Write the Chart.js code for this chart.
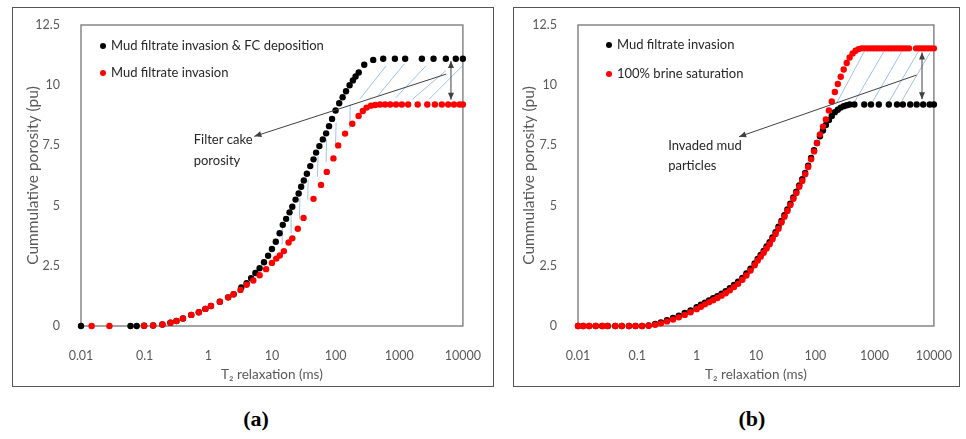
<!DOCTYPE html>
<html>
<head>
<meta charset="utf-8">
<script src="https://cdn.jsdelivr.net/npm/chart.js@4.4.0/dist/chart.umd.min.js"></script>
<style>
  body { margin: 0; background: #fff; }
  #wrap { position: relative; width: 966px; height: 439px; overflow: hidden; background: #fff; }
  .frame { position: absolute; border: 1.5px solid #555; box-sizing: border-box; }
  canvas { position: absolute; top: 0; }
  .lab { position: absolute; width: 80px; text-align: center; font: bold 22px "Liberation Serif", "Times New Roman", serif; color: #000; }
</style>
</head>
<body>
<div id="wrap">
  <div class="frame" style="left:12px;top:7px;width:482px;height:380px"></div>
  <div class="frame" style="left:513px;top:7px;width:447px;height:380px"></div>
  <canvas id="chartA" width="495" height="400" style="left:0"></canvas>
  <canvas id="chartB" width="469" height="400" style="left:497px"></canvas>
  <div class="lab" style="left:216px;top:406px">(a)</div>
  <div class="lab" style="left:712px;top:406px">(b)</div>
</div>
<script>
// ---- panel (a): T2 (ms) and cumulative porosity (pu)
const t2A_fc = [0.01, 0.06, 0.075, 0.098, 0.136, 0.19, 0.254, 0.316, 0.40, 0.54, 0.71, 0.90, 1.1, 1.52, 2.05, 2.5,
  3.3, 4.0, 4.7, 5.5, 6.4, 7.5, 8.7, 10, 11.5, 13.2, 14.8, 16.7, 18.9, 20.9, 23.5, 26.3, 28.8, 31.7, 35.4, 40, 45,
  49.4, 55.6, 63, 71, 79, 88, 100, 114, 129, 146, 166, 187, 206, 231, 282, 390, 560, 855, 1240, 2270, 3460, 5400,
  7740, 10000];
const phiA_fc = [0, 0, 0, 0.01, 0.02, 0.06, 0.14, 0.21, 0.31, 0.46, 0.57, 0.71, 0.83, 1.01, 1.19, 1.32,
  1.6, 1.78, 1.99, 2.2, 2.4, 2.65, 2.92, 3.2, 3.5, 3.85, 4.2, 4.45, 4.72, 4.95, 5.25, 5.5, 5.78, 6.04, 6.32, 6.64, 6.92,
  7.2, 7.47, 7.75, 8.0, 8.3, 8.6, 8.95, 9.25, 9.5, 9.75, 10.0, 10.2, 10.36, 10.53, 10.85, 11.05, 11.1, 11.1, 11.1, 11.1, 11.1, 11.1,
  11.1, 11.1];

const t2A_mf = [0.0147, 0.028, 0.098, 0.136, 0.19, 0.254, 0.316, 0.40, 0.54, 0.71, 0.90, 1.1, 1.52, 2.05, 2.5, 3.2,
  4.0, 5.1, 6.4, 8.1, 10, 11.7, 13.3, 15.4, 18.3, 20.9, 25.5, 31.4, 45, 59, 72.7, 92.5, 110, 141, 183, 230, 268, 307,
  360, 420, 500, 600, 720, 890, 1100, 1380, 1950, 2760, 3630, 4670, 5880, 7240, 8900, 10000];
const phiA_mf = [0, 0, 0.01, 0.02, 0.06, 0.14, 0.21, 0.31, 0.46, 0.57, 0.71, 0.83, 1.01, 1.19, 1.32, 1.5,
  1.71, 1.89, 2.11, 2.36, 2.62, 2.8, 2.93, 3.11, 3.47, 3.64, 4.04, 4.49, 5.28, 5.86, 6.4, 6.96, 7.5, 7.99, 8.4, 8.72, 8.93, 9.07,
  9.15, 9.18, 9.2, 9.2, 9.2, 9.2, 9.2, 9.2, 9.2, 9.2, 9.2, 9.2, 9.2, 9.2, 9.2, 9.2];

// ---- panel (b)
const t2B_mf = [0.01, 0.0122, 0.0154, 0.0199, 0.0256, 0.0317, 0.0425, 0.0548, 0.0724, 0.0933, 0.12, 0.155, 0.2, 0.25,
  0.316, 0.4, 0.5, 0.63, 0.79, 1.0, 1.18, 1.38, 1.62, 1.9, 2.24, 2.63, 3.09, 3.63, 4.27, 5.0, 5.9, 6.9, 8.1, 9.5, 10.7,
  12, 13.5, 15.1, 17, 19, 21.4, 24, 26.9, 30.2, 33.9, 38, 42.7, 47.9, 53.7, 60.3, 67.6, 75.9, 85.1, 95.5, 107, 120, 135,
  151, 170, 190, 214, 240, 269, 302, 339, 380, 457, 670, 870, 1180, 1740, 2390, 3000, 3990, 5130, 6600, 8500, 10000];
const phiB_mf = [0, 0, 0, 0, 0, 0, 0, 0, 0, 0, 0, 0.02, 0.08, 0.15,
  0.24, 0.33, 0.43, 0.54, 0.65, 0.78, 0.88, 0.97, 1.06, 1.15, 1.24, 1.34, 1.45, 1.57, 1.7, 1.84, 2.0, 2.18, 2.38, 2.6, 2.78,
  2.95, 3.12, 3.3, 3.48, 3.68, 3.9, 4.12, 4.36, 4.6, 4.84, 5.08, 5.34, 5.58, 5.84, 6.1, 6.36, 6.66, 6.98, 7.3, 7.6, 7.88, 8.12,
  8.35, 8.55, 8.72, 8.88, 8.98, 9.07, 9.13, 9.17, 9.2, 9.2, 9.2, 9.2, 9.2, 9.2, 9.2, 9.2, 9.2, 9.2, 9.2, 9.2, 9.2];

const t2B_brine = [0.01, 0.0122, 0.0154, 0.0199, 0.0256, 0.0317, 0.0425, 0.0548, 0.0724, 0.0933, 0.12, 0.155, 0.2, 0.25,
  0.316, 0.4, 0.5, 0.63, 0.79, 1.0, 1.18, 1.38, 1.62, 1.9, 2.24, 2.63, 3.09, 3.63, 4.27, 5.0, 5.9, 6.9, 8.1, 9.5, 10.7,
  12, 13.5, 15.1, 17, 19, 21.4, 24, 26.9, 30.2, 33.9, 38, 42.7, 47.9, 53.7, 60.3, 67.6, 75.9, 85.1, 95.5, 107, 120, 135,
  151, 170, 190, 214, 240, 269, 302, 339, 380, 427, 479, 537, 603, 676, 759, 851, 955, 1072, 1202, 1349, 1514, 1698, 1905,
  2138, 2399, 2692, 3020, 3388, 3802, 5012, 5623, 6310, 7079, 7943, 8913, 10000];
const phiB_brine = [0, 0, 0, 0, 0, 0, 0, 0, 0, 0, 0, 0.01, 0.05, 0.11,
  0.19, 0.27, 0.36, 0.46, 0.57, 0.7, 0.8, 0.9, 0.99, 1.07, 1.16, 1.26, 1.36, 1.48, 1.62, 1.75, 1.92, 2.1, 2.3, 2.52, 2.72,
  2.88, 3.04, 3.22, 3.4, 3.6, 3.82, 4.04, 4.3, 4.54, 4.78, 5.02, 5.28, 5.52, 5.78, 6.02, 6.3, 6.6, 6.92, 7.25, 7.6, 7.95, 8.28,
  8.58, 8.95, 9.32, 9.72, 10.05, 10.35, 10.65, 10.92, 11.15, 11.32, 11.43, 11.5, 11.53, 11.53, 11.53, 11.53, 11.53, 11.53, 11.53, 11.53, 11.53, 11.53, 11.53,
  11.53, 11.53, 11.53, 11.53, 11.53, 11.53, 11.53, 11.53, 11.53, 11.53, 11.53, 11.53, 11.53];

const xTicks = [0.01, 0.1, 1, 10, 100, 1000, 10000];
const yTicks = [0, 2.5, 5, 7.5, 10, 12.5];

// hatch segments [t2 start, phi start, t2 end, phi end]
const hatchA = [[14.5, 3.4, 14.5, 4.1], [20, 3.85, 20, 4.75], [27, 4.45, 27.5, 5.3], [36.6, 5.25, 37, 6.05],
  [52, 6.2, 53, 7.05], [71, 6.8, 72, 7.75], [100, 7.55, 102, 8.45], [167, 8.2, 170, 9.2],
  [240, 9.42, 620, 10.8], [460, 9.55, 1200, 10.88], [890, 9.49, 2630, 10.8], [1620, 9.42, 5400, 10.6], [2950, 9.42, 9800, 10.8]];
const hatchB = [[229, 9.25, 670, 11.4], [457, 9.3, 1440, 11.4], [920, 9.3, 2880, 11.4], [1740, 9.3, 5480, 11.4], [2880, 9.35, 8500, 11.33]];

const FONT = 'Lato, "Open Sans", sans-serif';
const GREY = '#595959';
const INK = '#262626';

function pts(xs, ys) {
  return xs.map((x, i) => ({ x: x, y: ys[i] }));
}

function arrowHead(ctx, x0, y0, x1, y1) {
  const a = Math.atan2(y1 - y0, x1 - x0);
  ctx.beginPath();
  ctx.moveTo(x1, y1);
  ctx.lineTo(x1 - 7 * Math.cos(a) + 3 * Math.sin(a), y1 - 7 * Math.sin(a) - 3 * Math.cos(a));
  ctx.lineTo(x1 - 7 * Math.cos(a) - 3 * Math.sin(a), y1 - 7 * Math.sin(a) + 3 * Math.cos(a));
  ctx.closePath();
  ctx.fill();
}

// frame, hatching, arrows, notes and in-plot legend
const annotate = {
  id: 'annotate',
  beforeDatasetsDraw(chart, args, o) {
    const { ctx, chartArea: ca } = chart;
    const xs = chart.scales.x, ys = chart.scales.y;
    ctx.save();
    ctx.strokeStyle = '#868686';
    ctx.lineWidth = 1.5;
    ctx.strokeRect(ca.left, ca.top, ca.right - ca.left, ca.bottom - ca.top);
    ctx.strokeStyle = '#9dc3e6';
    ctx.lineWidth = 1;
    o.hatch.forEach(h => {
      ctx.beginPath();
      ctx.moveTo(xs.getPixelForValue(h[0]), ys.getPixelForValue(h[1]));
      ctx.lineTo(xs.getPixelForValue(h[2]), ys.getPixelForValue(h[3]));
      ctx.stroke();
    });
    ctx.restore();
  },
  afterDatasetsDraw(chart, args, o) {
    const { ctx, chartArea: ca } = chart;
    const xs = chart.scales.x, ys = chart.scales.y;
    ctx.save();
    ctx.strokeStyle = '#404040';
    ctx.fillStyle = '#404040';
    ctx.lineWidth = 1;
    // pointer arrow
    const a = o.arrow;
    const ax0 = xs.getPixelForValue(a[0]), ay0 = ys.getPixelForValue(a[1]);
    const ax1 = xs.getPixelForValue(a[2]), ay1 = ys.getPixelForValue(a[3]);
    ctx.beginPath(); ctx.moveTo(ax0, ay0); ctx.lineTo(ax1, ay1); ctx.stroke();
    arrowHead(ctx, ax0, ay0, ax1, ay1);
    // double arrow between plateaus
    const d = o.gap;
    const dx = xs.getPixelForValue(d[0]), dy0 = ys.getPixelForValue(d[1]), dy1 = ys.getPixelForValue(d[2]);
    ctx.beginPath(); ctx.moveTo(dx, dy0); ctx.lineTo(dx, dy1); ctx.stroke();
    arrowHead(ctx, dx, dy1, dx, dy0);
    arrowHead(ctx, dx, dy0, dx, dy1);
    // note text
    ctx.font = '13px ' + FONT;
    ctx.fillStyle = INK;
    ctx.textBaseline = 'middle';
    ctx.textAlign = 'left';
    o.note.forEach(n => ctx.fillText(n[2], xs.getPixelForValue(n[0]), ys.getPixelForValue(n[1])));
    // legend
    chart.data.datasets.forEach((ds, i) => {
      const lx = ca.left + o.legend[0], ly = ca.top + o.legend[1] + i * o.legend[2];
      ctx.fillStyle = ds.backgroundColor;
      ctx.beginPath(); ctx.arc(lx, ly, 3, 0, Math.PI * 2); ctx.fill();
      ctx.fillStyle = INK;
      ctx.fillText(ds.label, lx + 8, ly);
    });
    ctx.restore();
  }
};

function makeChart(id, sets, ann) {
  return new Chart(document.getElementById(id), {
    type: 'scatter',
    data: {
      datasets: sets.map((s, i) => ({
        label: s.label,
        data: s.data,
        backgroundColor: s.color,
        borderColor: s.color,
        pointRadius: 3.2,
        pointBorderWidth: 0,
        pointHoverRadius: 3.2,
        order: s.order,
        clip: false
      }))
    },
    options: {
      responsive: false,
      animation: false,
      layout: { padding: { left: 0, top: 25, right: ann.padRight, bottom: 14 } },
      plugins: {
        legend: { display: false },
        tooltip: { enabled: false },
        annotate: ann
      },
      scales: {
        x: {
          type: 'logarithmic',
          min: 0.01,
          max: 10000,
          afterBuildTicks: s => { s.ticks = xTicks.map(v => ({ value: v })); },
          afterFit: s => { s.height = 60; },
          ticks: { callback: v => String(v), color: GREY, font: { family: FONT, size: 12.5 }, padding: 14, maxRotation: 0, autoSkip: false },
          grid: { display: false },
          border: { display: false },
          title: { display: true, text: 'T\u2082 relaxation (ms)', color: GREY, font: { family: FONT, size: 13.5 }, padding: { top: 0, bottom: 3 } }
        },
        y: {
          min: 0,
          max: 12.5,
          afterBuildTicks: s => { s.ticks = yTicks.map(v => ({ value: v })); },
          afterFit: s => { s.width = 81; },
          ticks: { callback: v => String(v), color: GREY, font: { family: FONT, size: 12.5 }, padding: 13 },
          grid: { display: false },
          border: { display: false },
          title: { display: true, text: 'Cummulative porosity (pu)', color: GREY, font: { family: FONT, size: 15.5 }, padding: { top: ann.titlePad, bottom: 0 } }
        }
      }
    },
    plugins: [annotate]
  });
}

makeChart('chartA', [
  { label: 'Mud filtrate invasion & FC deposition', data: pts(t2A_fc, phiA_fc), color: '#000000', order: 1 },
  { label: 'Mud filtrate invasion', data: pts(t2A_mf, phiA_mf), color: '#ff0000', order: 0 }
], {
  padRight: 31, titlePad: 24,
  hatch: hatchA,
  arrow: [5470, 10.46, 5.3, 7.875],
  gap: [6500, 11.0, 9.4],
  note: [[0.59, 7.75, 'Filter cake'], [0.59, 6.85, 'porosity']],
  legend: [22, 21, 27]
});

makeChart('chartB', [
  { label: 'Mud filtrate invasion', data: pts(t2B_mf, phiB_mf), color: '#000000', order: 1 },
  { label: '100% brine saturation', data: pts(t2B_brine, phiB_brine), color: '#ff0000', order: 0 }
], {
  padRight: 25, titlePad: 23,
  hatch: hatchB,
  arrow: [5100, 10.42, 5.2, 7.86],
  gap: [6310, 11.36, 9.42],
  note: [[0.331, 7.47, 'Invaded mud'], [0.331, 6.64, 'particles']],
  legend: [31, 20, 29]
});
</script>
</body>
</html>
